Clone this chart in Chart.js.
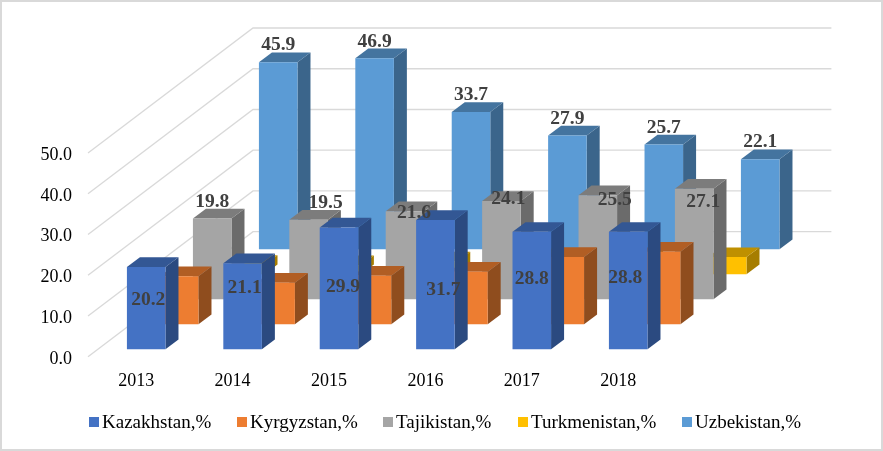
<!DOCTYPE html>
<html lang="en">
<head>
  <meta charset="UTF-8">
  <title>Central Asia shares, 2013-2018</title>
  <script src="https://cdn.jsdelivr.net/npm/chart.js"></script>
  <style>
    html, body { margin: 0; padding: 0; background: #fff; overflow: hidden; }
    canvas { display: block; }
  </style>
</head>
<body>
  <canvas id="chart" width="883" height="451"></canvas>

  <script>
    const years = ['2013', '2014', '2015', '2016', '2017', '2018'];
    const yTicks = [0, 10, 20, 30, 40, 50];

    const kazakhstan = [20.2, 21.1, 29.9, 31.7, 28.8, 28.8];
    const kyrgyzstan = [11.8, 10.2, 11.9, 12.9, 16.5, 17.8];
    const tajikistan = [19.8, 19.5, 21.6, 24.1, 25.5, 27.1];
    const turkmenistan = [2.3, 2.2, 3.1, 3.9, 4.1, 4.2];
    const uzbekistan = [45.9, 46.9, 33.7, 27.9, 25.7, 22.1];

    // [dx, dy] of each hand placed label, measured from the top middle of the front face
    const kazNudge = [[2, 33], [2, 25], [4, 60], [8, 70], [0, 47], [-3, 46]];
    const tajNudge = [[0, -17], [17, -17], [9, 2], [7, -2], [17, 5], [9, 13]];
    const uzbNudge = [[0, -17], [0, -16], [0, -17], [0, -17], [0, -17], [0, -17]];

    const serif = '"Liberation Serif", "Times New Roman", serif';
    const gridColor = '#d9d9d9';

    // 3d look, all in pixels
    const slot = { dx: 33, dy: 25 };      // one step back in depth
    const gap = { dx: 10, dy: 9.7 };      // floor edge to first bar
    const side = { dx: 13, dy: 9.7 };     // depth of one bar
    const tickDrop = 2.2;                 // tick labels sit a little under their gridline

    const look = [
      { top: '#335794', side: '#2b4a80' },
      { top: '#b15e24', side: '#8f4d1e' },
      { top: '#7c7c7c', side: '#6b6b6b' },
      { top: '#bf9000', side: '#a67d00' },
      { top: '#44749f', side: '#3b658b' }
    ];
    const nudges = [kazNudge, null, tajNudge, null, uzbNudge];
    const legendX = [89, 237, 383, 518, 682];

    const shift = (i) => ({ x: gap.dx + slot.dx * i, y: -gap.dy - slot.dy * i });

    const poly = (ctx, pts, fill) => {
      ctx.beginPath();
      pts.forEach((p, i) => i ? ctx.lineTo(p[0], p[1]) : ctx.moveTo(p[0], p[1]));
      ctx.closePath();
      ctx.fillStyle = fill;
      ctx.fill();
    };

    const walls = {
      id: 'walls',
      beforeDraw(chart) {
        const ctx = chart.ctx;
        ctx.save();
        ctx.fillStyle = '#fff';
        ctx.fillRect(0, 0, chart.width, chart.height);
        ctx.strokeStyle = gridColor;
        ctx.lineWidth = 2;
        ctx.strokeRect(1, 1, chart.width - 2, chart.height - 2);
        ctx.restore();
      },
      beforeDatasetsDraw(chart) {
        const ctx = chart.ctx, y = chart.scales.y, a = chart.chartArea;
        const backX = slot.dx * 5, backY = slot.dy * 5;
        ctx.save();
        ctx.strokeStyle = gridColor;
        ctx.lineWidth = 1.3;
        yTicks.forEach(v => {
          const py = y.getPixelForValue(v) - tickDrop;
          ctx.beginPath();
          ctx.moveTo(a.left, py);
          ctx.lineTo(a.left + backX, py - backY);
          ctx.lineTo(a.right + backX, py - backY);
          ctx.stroke();
        });
        ctx.restore();
      },
      // each series sits one slot further back, the front face is still the library's bar
      beforeDatasetDraw(chart, args) {
        const ctx = chart.ctx, s = shift(args.index), c = look[args.index];
        ctx.save();
        ctx.translate(s.x, s.y);
        args.meta.data.forEach(bar => {
          const l = bar.x - bar.width / 2, r = bar.x + bar.width / 2;
          poly(ctx, [[r, bar.y], [r + side.dx, bar.y - side.dy], [r + side.dx, bar.base - side.dy], [r, bar.base]], c.side);
          poly(ctx, [[l, bar.y], [l + side.dx, bar.y - side.dy], [r + side.dx, bar.y - side.dy], [r, bar.y]], c.top);
        });
      },
      afterDatasetDraw(chart) {
        chart.ctx.restore();
      },
      afterDatasetsDraw(chart) {
        const ctx = chart.ctx;
        ctx.save();
        ctx.font = 'bold 19.5px ' + serif;
        ctx.fillStyle = '#404040';
        ctx.textAlign = 'center';
        ctx.textBaseline = 'middle';
        chart.data.datasets.forEach((ds, i) => {
          if (!nudges[i]) return;
          const s = shift(i);
          chart.getDatasetMeta(i).data.forEach((bar, j) => {
            ctx.fillText(ds.data[j].toFixed(1), bar.x + s.x + nudges[i][j][0], bar.y + s.y + nudges[i][j][1]);
          });
        });
        // legend, the built in one keeps too wide a gap after the swatch
        ctx.font = '19px ' + serif;
        ctx.textAlign = 'left';
        chart.data.datasets.forEach((ds, i) => {
          ctx.fillStyle = ds.backgroundColor;
          ctx.fillRect(legendX[i], 417, 10, 10);
          ctx.fillStyle = '#000';
          ctx.fillText(ds.label, legendX[i] + 13, 423);
        });
        ctx.restore();
      }
    };

    const series = (label, data, color) => ({
      label, data,
      backgroundColor: color,
      borderWidth: 0,
      clip: false
    });

    new Chart(document.getElementById('chart'), {
      type: 'bar',
      data: {
        labels: years,
        datasets: [
          series('Kazakhstan,%', kazakhstan, '#4472c4'),
          series('Kyrgyzstan,%', kyrgyzstan, '#ed7d31'),
          series('Tajikistan,%', tajikistan, '#a5a5a5'),
          series('Turkmenistan,%', turkmenistan, '#ffc000'),
          series('Uzbekistan,%', uzbekistan, '#5b9bd5')
        ]
      },
      options: {
        responsive: false,
        animation: false,
        grouped: false,
        barPercentage: 0.4,
        categoryPercentage: 1,
        layout: { padding: { left: 0, right: 216.6, top: 155.2, bottom: 52.1 } },
        plugins: { legend: { display: false }, title: { display: false }, tooltip: { enabled: false } },
        scales: {
          x: {
            grid: { display: false },
            border: { display: false },
            ticks: { color: '#000', padding: 4, maxRotation: 0, font: { family: serif, size: 18 } },
            afterFit(s) { s.height = 40; }
          },
          y: {
            min: 0, max: 50,
            grid: { display: false },
            border: { display: false },
            ticks: {
              color: '#000', padding: 8, stepSize: 10,
              font: { family: serif, size: 18 },
              callback: (v) => v.toFixed(1)
            },
            afterFit(s) { s.width = 88; }
          }
        }
      },
      plugins: [walls]
    });
  </script>
</body>
</html>
